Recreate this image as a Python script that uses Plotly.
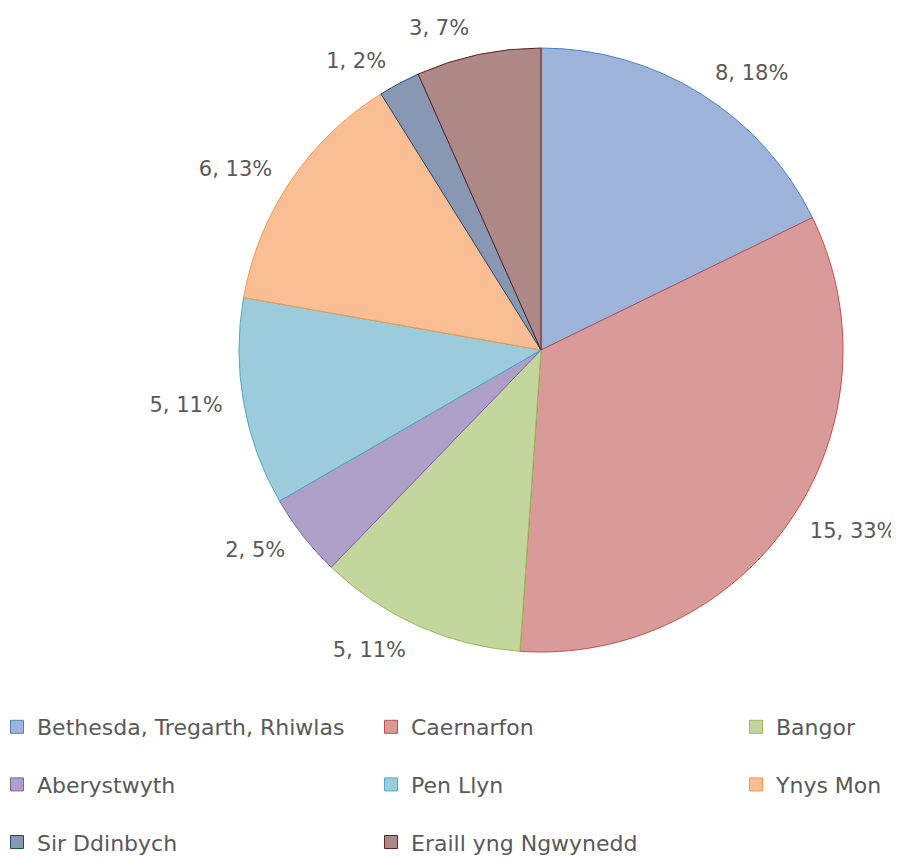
import plotly.graph_objects as go

categories = ["Bethesda, Tregarth, Rhiwlas", "Caernarfon", "Bangor", "Aberystwyth",
              "Pen Llyn", "Ynys Mon", "Sir Ddinbych", "Eraill yng Ngwynedd"]
counts = [8, 15, 5, 2, 5, 6, 1, 3]
percent_labels = ["18%", "33%", "11%", "5%", "11%", "13%", "2%", "7%"]

fill_colors = ["#9DB3DA", "#D99B9A", "#C3D69D", "#AFA0C9", "#9CCCDC", "#F9BE93", "#8898B2", "#AE8886"]
line_colors = ["#4F81BD", "#C0504D", "#9BBB59", "#8064A2", "#4BACC6", "#F79646", "#1F497D", "#632523"]
legend_ids = ["legend", "legend2", "legend3", "legend", "legend2", "legend3", "legend", "legend2"]

label_text = [f"{c}, {p}" for c, p in zip(counts, percent_labels)]

TEXT_COLOR = "#595959"
FONT = "DejaVu Sans"

# the page body adds an 8px margin, so the figure is 891x850 drawn from (8, 8)
W, H = 891, 850
CX, CY, R = 533, 342, 302      # pie centre and radius (figure px)
R_LABEL = 317                   # labels sit a little beyond the pie edge, as in the original


def pie_domain(r):
    return dict(x=[(CX - r) / W, (CX + r) / W], y=[(H - CY - r) / H, (H - CY + r) / H])


fig = go.Figure()
# transparent, slightly larger copy of the pie that only carries the data labels
fig.add_trace(go.Pie(
    labels=categories,
    values=counts,
    text=label_text,
    textinfo="text",
    textposition="outside",
    sort=False,
    direction="clockwise",
    rotation=0,
    marker=dict(colors=["rgba(0,0,0,0)"] * len(counts), line=dict(width=0)),
    textfont=dict(size=21, color=TEXT_COLOR, family=FONT),
    showlegend=False,
    domain=pie_domain(R_LABEL),
    hoverinfo="skip",
))
fig.add_trace(go.Pie(
    labels=categories,
    values=counts,
    textinfo="none",
    sort=False,
    direction="clockwise",
    rotation=0,
    marker=dict(colors=fill_colors, line=dict(color=line_colors, width=1)),
    showlegend=False,
    domain=pie_domain(R),
    hoverinfo="label+value+percent",
))

for cat, fc, lc, lid in zip(categories, fill_colors, line_colors, legend_ids):
    fig.add_trace(go.Scatter(
        x=[None], y=[None], mode="markers", name=cat,
        marker=dict(symbol="square", size=13, color=fc, line=dict(color=lc, width=1)),
        legend=lid, legendgroup=cat, showlegend=True, hoverinfo="skip",
    ))

legend_common = dict(
    xanchor="left", yanchor="top", orientation="v",
    tracegroupgap=26, bgcolor="rgba(0,0,0,0)",
    font=dict(size=22, color=TEXT_COLOR, family=FONT),
    itemclick=False, itemdoubleclick=False,
)
legend_y = (H - 698) / H

fig.update_layout(
    width=W, height=H,
    margin=dict(l=0, r=0, t=0, b=0, autoexpand=False),
    paper_bgcolor="white", plot_bgcolor="white",
    xaxis=dict(visible=False), yaxis=dict(visible=False),
    legend=dict(x=-11 / W, y=legend_y, **legend_common),
    legend2=dict(x=363 / W, y=legend_y, **legend_common),
    legend3=dict(x=728 / W, y=legend_y, **legend_common),
)

fig.write_html("out.html")
